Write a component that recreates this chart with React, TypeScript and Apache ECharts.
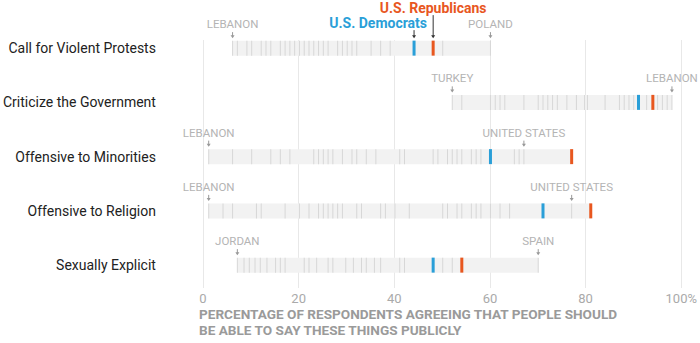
import React, { useEffect, useRef } from "react";
import * as echarts from "echarts";

const categories = [
  "Call for Violent Protests",
  "Criticize the Government",
  "Offensive to Minorities",
  "Offensive to Religion",
  "Sexually Explicit",
];
const rangeMin = [6, 52, 1, 1, 7];
const rangeMax = [60, 98, 77, 81, 70];
const democrats = [44, 91, 60, 71, 48];
const republicans = [48, 94, 77, 81, 54];
const lowCountry = ["LEBANON", "TURKEY", "LEBANON", "LEBANON", "JORDAN"];
const lowValue = [6, 52, 1, 1, 7];
const highCountry = ["POLAND", "LEBANON", "UNITED STATES", "UNITED STATES", "SPAIN"];
const highValue = [60, 98, 67, 77, 70];

const countriesViolent = [6, 7, 9, 10, 12, 13, 14, 16, 17, 18, 19, 20, 21, 22, 23, 24, 25, 26, 28, 29, 30, 31, 32, 35, 37, 39, 50, 60];
const countriesCriticize = [52, 54, 60, 61, 62, 63, 67, 70, 71, 72, 73, 74, 76, 78, 79.7, 80.3, 84, 87, 88, 89, 90, 92.7, 95, 96, 97, 98];
const countriesMinorities = [1, 6, 10, 14, 16, 18, 23, 24, 25, 26, 27, 29, 31, 32, 34, 36, 41, 42, 48, 49, 51, 52, 53, 54, 56, 57, 58, 65, 66, 67];
const countriesReligion = [1, 4, 6, 11, 12, 17, 20, 22, 24, 25, 26, 27, 28, 29, 32, 33, 37, 38, 40, 43, 50, 51, 53, 54, 56, 57, 58, 60, 62, 64, 77];
const countriesSexual = [7, 8.4, 9.5, 10.7, 11.8, 13.2, 15, 16, 17, 21, 22, 23.6, 26, 27, 29.7, 31.3, 33, 34, 35.7, 37, 41, 42, 50, 52, 70];
const countryValues = [countriesViolent, countriesCriticize, countriesMinorities, countriesReligion, countriesSexual];

const axisTitle = "PERCENTAGE OF RESPONDENTS AGREEING THAT PEOPLE SHOULD\nBE ABLE TO SAY THESE THINGS PUBLICLY";

const BLUE = "#2a9fd8";
const ORANGE = "#e8571f";
const FONT = "Roboto";

export default function App() {
  const ref = useRef<HTMLDivElement>(null);
  useEffect(() => {
    if (!ref.current) return;
    const chart = echarts.init(ref.current, null, { renderer: "svg" });
    const renderItem = (params: any, api: any) => {
      const i = params.dataIndex;
      const h = 15;
      const [x0, cy] = api.coord([rangeMin[i], i]);
      const [x1] = api.coord([rangeMax[i], i]);
      const children: any[] = [];
      children.push({
        type: "rect",
        shape: { x: x0, y: cy - h / 2, width: x1 - x0, height: h },
        style: { fill: "#f2f2f2" },
      });
      countryValues[i].forEach((v) => {
        const [x] = api.coord([v, i]);
        children.push({
          type: "rect",
          shape: { x: x - 0.5, y: cy - h / 2, width: 1, height: h },
          style: { fill: "#d7d7d7" },
        });
      });
      const [xd] = api.coord([democrats[i], i]);
      const [xr] = api.coord([republicans[i], i]);
      children.push({
        type: "rect",
        shape: { x: xd - 1.5, y: cy - h / 2, width: 3, height: h },
        style: { fill: BLUE },
      });
      children.push({
        type: "rect",
        shape: { x: xr - 1.5, y: cy - h / 2, width: 3, height: h },
        style: { fill: ORANGE },
      });
      const addArrow = (x: number, yTop: number, color: string) => {
        children.push({
          type: "line",
          shape: { x1: x, y1: yTop, x2: x, y2: cy - 11 },
          style: { stroke: color, lineWidth: 1 },
        });
        children.push({
          type: "polygon",
          shape: { points: [[x - 2, cy - 13], [x + 2, cy - 13], [x, cy - 10]] },
          style: { fill: color },
        });
      };
      const addCountry = (name: string, v: number) => {
        const [x] = api.coord([v, i]);
        children.push({
          type: "text",
          style: {
            text: name,
            x,
            y: cy - 24,
            align: "center",
            verticalAlign: "middle",
            fill: "#b4b4b4",
            fontSize: 11.5,
            fontFamily: FONT,
          },
        });
        addArrow(x, cy - 16, "#999");
      };
      addCountry(lowCountry[i], lowValue[i]);
      addCountry(highCountry[i], highValue[i]);
      if (i === 0) {
        children.push({
          type: "text",
          style: {
            text: "U.S. Republicans",
            x: xr,
            y: cy - 40,
            align: "center",
            verticalAlign: "middle",
            fill: ORANGE,
            fontSize: 14,
            fontWeight: "bold",
            fontFamily: FONT,
          },
        });
        addArrow(xr, cy - 33, "#333");
        children.push({
          type: "text",
          style: {
            text: "U.S. Democrats",
            x: xd + 13,
            y: cy - 25,
            align: "right",
            verticalAlign: "middle",
            fill: BLUE,
            fontSize: 14,
            fontWeight: "bold",
            fontFamily: FONT,
          },
        });
        addArrow(xd, cy - 18, "#333");
      }
      return { type: "group", children };
    };

    chart.setOption({
      animation: false,
      grid: [
        { left: 203, right: 18.5, top: 21, height: 271.25 },
        { left: 203, right: 18.5, top: 40, bottom: 55 },
      ],
      xAxis: [
        { gridIndex: 0, type: "value", min: 0, max: 100, show: false },
        {
          gridIndex: 1,
          type: "value",
          min: 0,
          max: 100,
          interval: 20,
          axisLine: { show: false },
          axisTick: { show: false },
          splitLine: { show: true, lineStyle: { color: "#e8e8e8", width: 1 } },
          axisLabel: {
            color: "#aaaaaa",
            fontSize: 13,
            fontFamily: FONT,
            margin: 4,
            formatter: (v: number) => (v === 100 ? "100%" : String(v)),
          },
        },
      ],
      yAxis: [
        {
          gridIndex: 0,
          type: "category",
          data: categories,
          inverse: true,
          axisLine: { show: false },
          axisTick: { show: false },
          splitLine: { show: false },
          axisLabel: { color: "#222", fontSize: 14, fontFamily: FONT, margin: 48 },
        },
        { gridIndex: 1, type: "value", min: 0, max: 1, show: false },
      ],
      graphic: [
        {
          type: "text",
          left: 199,
          top: 306,
          style: {
            text: axisTitle,
            fill: "#9a9a9a",
            fontSize: 13.6,
            fontWeight: "bold",
            fontFamily: FONT,
            lineHeight: 16,
          },
        },
      ],
      series: [
        {
          type: "scatter",
          xAxisIndex: 1,
          yAxisIndex: 1,
          data: [],
        },
        {
          type: "custom",
          xAxisIndex: 0,
          yAxisIndex: 0,
          clip: false,
          renderItem,
          encode: { x: 0, y: 1 },
          data: categories.map((_, i) => [rangeMin[i], i]),
        },
      ],
    });
    return () => chart.dispose();
  }, []);
  return (
    <div
      ref={ref}
      style={{ position: "absolute", left: 0, top: 0, width: 700, height: 343 }}
    />
  );
}
